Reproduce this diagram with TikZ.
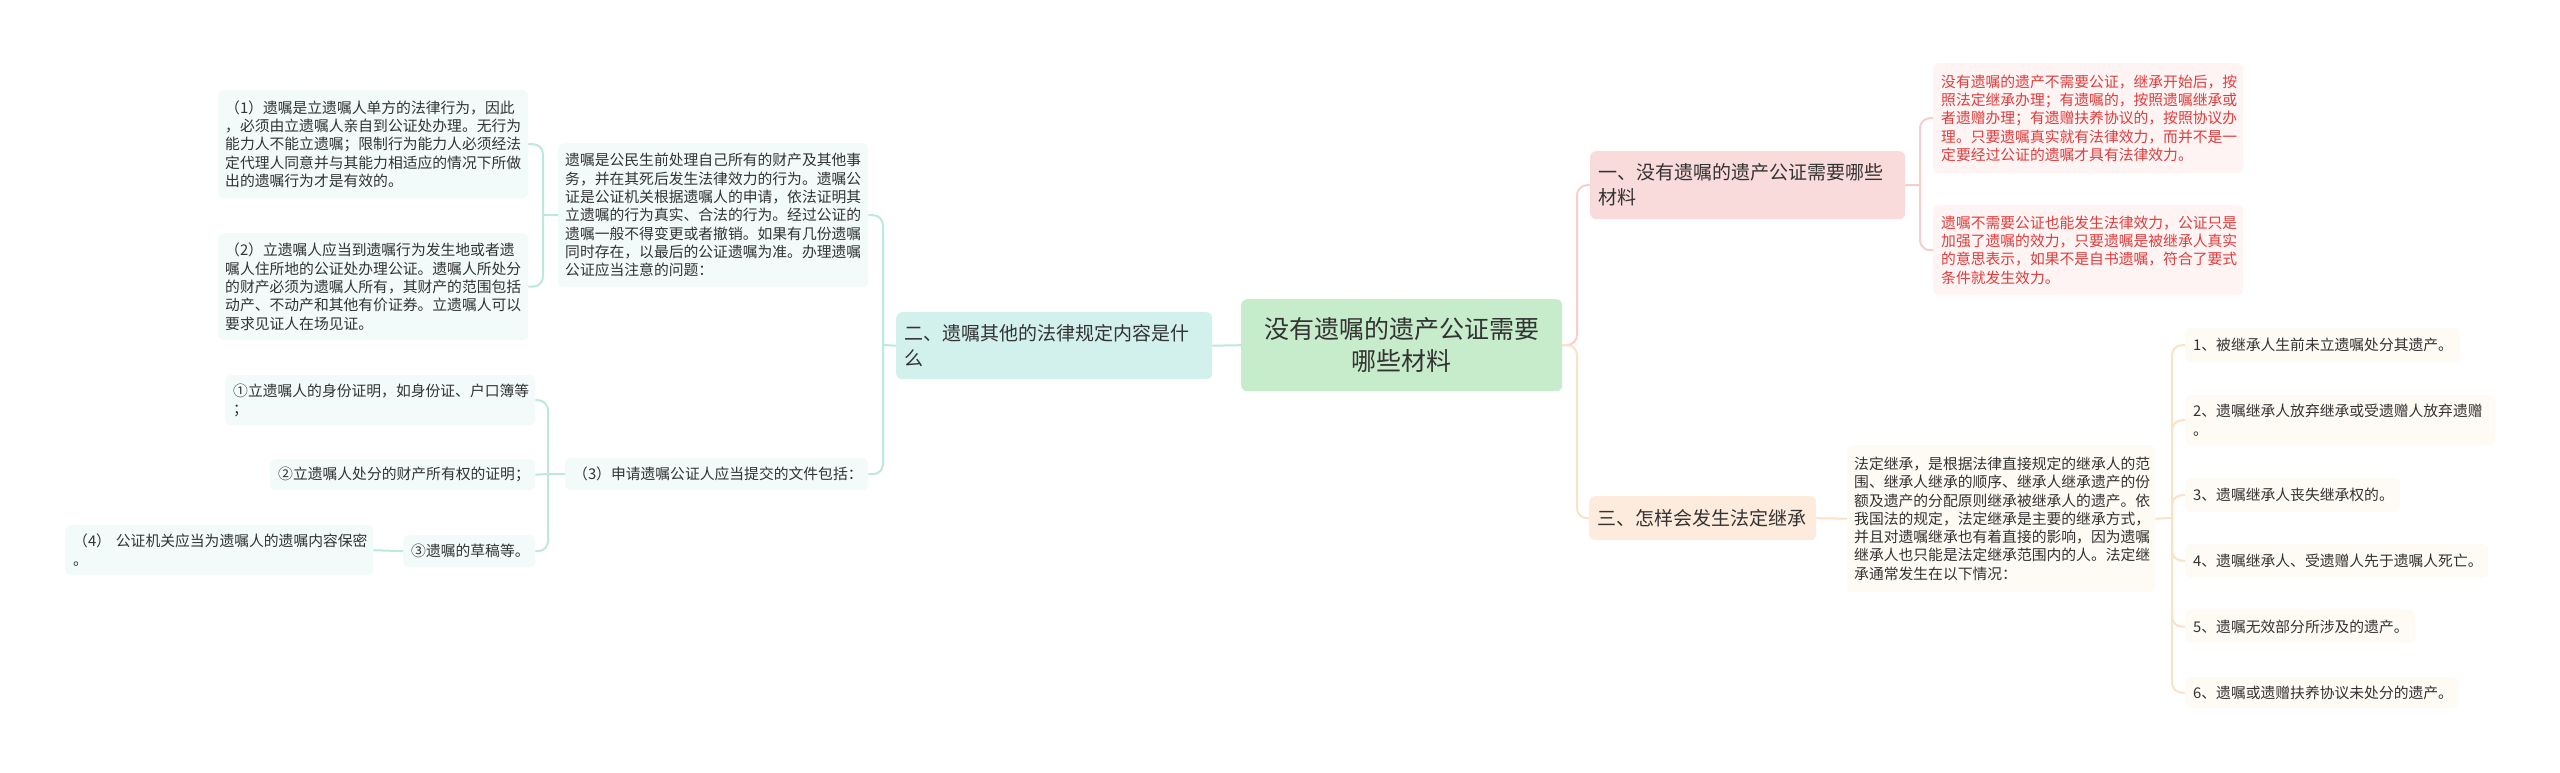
\documentclass[tikz,border=0pt]{standalone}
\usepackage{fontspec}
\newfontfamily\cjk{Noto Sans CJK SC}
\definecolor{txt}{RGB}{51,51,51}
\definecolor{redtxt}{RGB}{225,60,60}
\definecolor{rootfill}{RGB}{199,236,203}
\definecolor{yifill}{RGB}{250,219,219}
\definecolor{erfill}{RGB}{210,240,236}
\definecolor{sanfill}{RGB}{253,236,221}
\definecolor{leafteal}{RGB}{242,250,250}
\definecolor{leafpink}{RGB}{254,244,244}
\definecolor{leafbeige}{RGB}{254,250,244}
\definecolor{lineteal}{RGB}{190,231,224}
\definecolor{linepink}{RGB}{246,206,206}
\definecolor{linebeige}{RGB}{249,227,198}

\begin{document}
\begin{tikzpicture}[x=1pt,y=-1pt,
    box/.style={anchor=north west, rounded corners=6pt, inner xsep=8pt, inner ysep=0pt, align=left, text=txt},
    rootbox/.style={box, fill=rootfill, align=center, font=\cjk\fontsize{25}{32}\selectfont},
    topic/.style={box, font=\cjk\fontsize{19}{25}\selectfont},
    leaf/.style={box, font=\cjk\fontsize{14.8}{18.3}\selectfont},
    link/.style={line width=2pt, rounded corners=10pt}]
    \fill[white] (0,0) rectangle (2560,773);
    \useasboundingbox (0,0) rectangle (2560,773);

    % centre and main topics
    \node[rootbox, text width=305pt, minimum height=92pt] (root) at (1241,299) {没有遗嘱的遗产公证需要\\哪些材料};
    \node[topic, fill=yifill, text width=299pt, minimum height=68pt] (yi) at (1590,151) {一、没有遗嘱的遗产公证需要哪些\\材料};
    \node[topic, fill=erfill, text width=300pt, minimum height=67pt] (er) at (896,312) {二、遗嘱其他的法律规定内容是什\\么};
    \node[topic, fill=sanfill, text width=211pt, minimum height=44pt] (san) at (1589,496) {三、怎样会发生法定继承};

    % branch one
    \node[leaf, fill=leafpink, text=redtxt, text width=294pt, minimum height=110pt] (r1) at (1933,63) {没有遗嘱的遗产不需要公证，继承开始后，按\\照法定继承办理；有遗嘱的，按照遗嘱继承或\\者遗赠办理；有遗赠扶养协议的，按照协议办\\理。只要遗嘱真实就有法律效力，而并不是一\\定要经过公证的遗嘱才具有法律效力。};
    \node[leaf, fill=leafpink, text=redtxt, text width=294pt, minimum height=90pt] (r2) at (1933,205) {遗嘱不需要公证也能发生法律效力，公证只是\\加强了遗嘱的效力，只要遗嘱是被继承人真实\\的意思表示，如果不是自书遗嘱，符合了要式\\条件就发生效力。};

    % branch two
    \node[leaf, fill=leafteal, text width=296pt, inner xsep=7pt, minimum height=144pt] (big2) at (558,143) {遗嘱是公民生前处理自己所有的财产及其他事\\务，并在其死后发生法律效力的行为。遗嘱公\\证是公证机关根据遗嘱人的申请，依法证明其\\立遗嘱的行为真实、合法的行为。经过公证的\\遗嘱一般不得变更或者撤销。如果有几份遗嘱\\同时存在，以最后的公证遗嘱为准。办理遗嘱\\公证应当注意的问题：};
    \node[leaf, fill=leafteal, text width=296pt, inner xsep=7pt, minimum height=108pt] (n1) at (218,90) {（1）遗嘱是立遗嘱人单方的法律行为，因此\\，必须由立遗嘱人亲自到公证处办理。无行为\\能力人不能立遗嘱；限制行为能力人必须经法\\定代理人同意并与其能力相适应的情况下所做\\出的遗嘱行为才是有效的。};
    \node[leaf, fill=leafteal, text width=296pt, inner xsep=7pt, minimum height=107pt] (n2) at (218,233) {（2）立遗嘱人应当到遗嘱行为发生地或者遗\\嘱人住所地的公证处办理公证。遗嘱人所处分\\的财产必须为遗嘱人所有，其财产的范围包括\\动产、不动产和其他有价证券。立遗嘱人可以\\要求见证人在场见证。};
    \node[leaf, fill=leafteal, text width=287pt, minimum height=32pt] (n3) at (565,458) {（3）申请遗嘱公证人应当提交的文件包括：};
    \node[leaf, fill=leafteal, text width=294pt, minimum height=50pt] (d1) at (225,375) {①立遗嘱人的身份证明，如身份证、户口簿等\\；};
    \node[leaf, fill=leafteal, text width=249pt, minimum height=31pt] (d2) at (270,459) {②立遗嘱人处分的财产所有权的证明；};
    \node[leaf, fill=leafteal, text width=116pt, minimum height=32pt] (d3) at (403,535) {③遗嘱的草稿等。};
    \node[leaf, fill=leafteal, text width=292pt, minimum height=50pt] (n4) at (65,525) {（4）~公证机关应当为遗嘱人的遗嘱内容保密\\。};

    % branch three
    \node[leaf, fill=leafbeige, text width=294pt, inner xsep=7pt, minimum height=147pt] (big3) at (1847,445) {法定继承，是根据法律直接规定的继承人的范\\围、继承人继承的顺序、继承人继承遗产的份\\额及遗产的分配原则继承被继承人的遗产。依\\我国法的规定，法定继承是主要的继承方式，\\并且对遗嘱继承也有着直接的影响，因为遗嘱\\继承人也只能是法定继承范围内的人。法定继\\承通常发生在以下情况：};
    \node[leaf, fill=leafbeige, text width=259pt, minimum height=34pt] (c1) at (2185,328) {1、被继承人生前未立遗嘱处分其遗产。};
    \node[leaf, fill=leafbeige, text width=294pt, minimum height=50pt] (c2) at (2185,395) {2、遗嘱继承人放弃继承或受遗赠人放弃遗赠\\。};
    \node[leaf, fill=leafbeige, text width=199pt, minimum height=34pt] (c3) at (2185,478) {3、遗嘱继承人丧失继承权的。};
    \node[leaf, fill=leafbeige, text width=287pt, minimum height=33pt] (c4) at (2185,544) {4、遗嘱继承人、受遗赠人先于遗嘱人死亡。};
    \node[leaf, fill=leafbeige, text width=214pt, minimum height=33pt] (c5) at (2185,610) {5、遗嘱无效部分所涉及的遗产。};
    \node[leaf, fill=leafbeige, text width=257pt, minimum height=31pt] (c6) at (2185,677) {6、遗嘱或遗赠扶养协议未处分的遗产。};

    % junctions
    \coordinate (jR) at (1577,345);
    \coordinate (jY) at (1920,185);
    \coordinate (jL) at (883,345);
    \coordinate (jB) at (543,215);
    \coordinate (jD) at (548,474);
    \coordinate (j3) at (2172,518);

    % connectors
    \draw[link, linepink] (root.east) -- (jR) |- (yi.west);
    \draw[link, linebeige] (root.east) -- (jR) |- (san.west);
    \draw[link, linepink] (yi.east) -- (jY);
    \draw[link, linepink] (jY) |- (r1.west);
    \draw[link, linepink] (jY) |- (r2.west);
    \draw[link, lineteal] (root.west) -- (er.east);
    \draw[link, lineteal] (er.west) -- (jL);
    \draw[link, lineteal] (jL) |- (big2.east);
    \draw[link, lineteal] (jL) |- (n3.east);
    \draw[link, lineteal] (big2.west) -- (jB);
    \draw[link, lineteal] (jB) |- (n1.east);
    \draw[link, lineteal] (jB) |- (n2.east);
    \draw[link, lineteal] (n3.west) -- (jD);
    \draw[link, lineteal] (jD) |- (d1.east);
    \draw[link, lineteal] (jD) -- (d2.east);
    \draw[link, lineteal] (jD) |- (d3.east);
    \draw[link, lineteal] (d3.west) -- (n4.east);
    \draw[link, linebeige] (san.east) -- (big3.west);
    \draw[link, linebeige] (big3.east) -- (j3);
    \foreach \c in {c1,c2,c3,c4,c5,c6}
        \draw[link, linebeige] (j3) |- (\c.west);
\end{tikzpicture}
\end{document}
